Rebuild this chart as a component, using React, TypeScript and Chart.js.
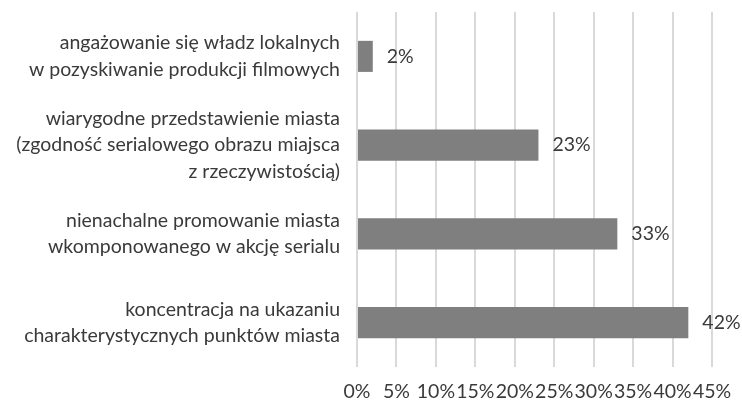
import React, { useEffect, useRef } from "react";
import { Chart, registerables } from "chart.js";

Chart.register(...registerables);

const categories: string[][] = [
  ["angażowanie się władz lokalnych", "w pozyskiwanie produkcji filmowych"],
  ["wiarygodne przedstawienie miasta", "(zgodność serialowego obrazu miajsca", "z rzeczywistością)"],
  ["nienachalne promowanie miasta", "wkomponowanego w akcję serialu"],
  ["koncentracja na ukazaniu", "charakterystycznych punktów miasta"],
];
const values: number[] = [2, 23, 33, 42];
const xTicks: number[] = [0, 5, 10, 15, 20, 25, 30, 35, 40, 45];

const FONT = "Lato";
const SIZE = 19.5;
const TEXT = "#3a3a3a";

const dataLabels = {
  id: "dataLabels",
  afterDatasetsDraw(chart: any) {
    const ctx = chart.ctx;
    const meta = chart.getDatasetMeta(0);
    ctx.save();
    ctx.font = `${SIZE}px ${FONT}`;
    ctx.fillStyle = TEXT;
    ctx.textAlign = "left";
    ctx.textBaseline = "middle";
    meta.data.forEach((bar: any, i: number) => {
      ctx.fillText(values[i] + "%", bar.x + 14, bar.y);
    });
    ctx.restore();
  },
};

export default function App() {
  const ref = useRef<HTMLCanvasElement>(null);
  useEffect(() => {
    if (!ref.current) return;
    const chart = new Chart(ref.current, {
      type: "bar",
      data: {
        labels: categories,
        datasets: [
          {
            data: values,
            backgroundColor: "#7f7f7f",
            barPercentage: 0.35,
            categoryPercentage: 1,
          },
        ],
      },
      options: {
        indexAxis: "y",
        animation: false,
        responsive: false,
        maintainAspectRatio: false,
        layout: { padding: { top: 12, right: 30, left: 0, bottom: 0 } },
        plugins: { legend: { display: false }, tooltip: { enabled: false } },
        scales: {
          x: {
            min: 0,
            max: 45,
            afterBuildTicks: (axis: any) => {
              axis.ticks = xTicks.map((v) => ({ value: v }));
            },
            afterFit: (axis: any) => {
              axis.height = 36;
              axis.paddingLeft = 0;
              axis.paddingRight = 0;
              axis.paddingTop = 0;
              axis.paddingBottom = 0;
            },
            border: { display: false },
            grid: { color: "#d9d9d9", lineWidth: 2, drawTicks: false },
            ticks: {
              padding: 13,
              color: TEXT,
              font: { family: FONT, size: SIZE },
              maxRotation: 0,
              autoSkip: false,
              callback: (v: any) => v + "%",
            },
          },
          y: {
            afterFit: (axis: any) => {
              axis.width = 357;
              axis.paddingLeft = 0;
              axis.paddingRight = 0;
              axis.paddingTop = 0;
              axis.paddingBottom = 0;
            },
            border: { display: false },
            grid: { display: false, drawTicks: false },
            ticks: {
              padding: 17,
              color: TEXT,
              font: { family: FONT, size: SIZE, lineHeight: 1.35 },
              autoSkip: false,
            },
          },
        },
      },
      plugins: [dataLabels],
    });
    return () => chart.destroy();
  }, []);
  return (
    <div style={{ position: "fixed", left: 0, top: 0, width: 742, height: 403, background: "#fff" }}>
      <canvas ref={ref} width={742} height={403} />
    </div>
  );
}
